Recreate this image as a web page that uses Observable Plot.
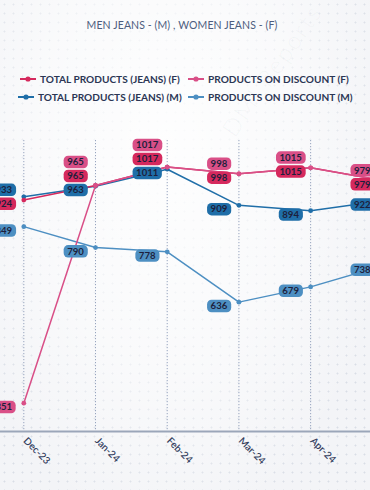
<!DOCTYPE html>
<html>
<head>
<meta charset="utf-8">
<script src="https://cdn.jsdelivr.net/npm/d3@7"></script>
<script src="https://cdn.jsdelivr.net/npm/@observablehq/plot@0.6"></script>
<style>
  html, body { margin: 0; padding: 0; overflow: hidden; }
  body { width: 370px; height: 490px; font-family: Lato, "Open Sans", sans-serif; }
  #wrap {
    position: relative; width: 370px; height: 490px; overflow: hidden;
    background-color: #f3f4f7;
    background-image: radial-gradient(circle, rgba(170,180,200,0.35) 0.8px, transparent 1.2px);
    background-size: 9px 9px;
  }
  #wrap::before {
    content: ""; position: absolute; inset: 0;
    background: radial-gradient(ellipse at 45% 30%, rgba(255,255,255,0.9) 0%, rgba(255,255,255,0.55) 45%, rgba(255,255,255,0) 80%);
    pointer-events: none;
  }
  #title {
    position: relative; height: 50px; line-height: 50px; text-align: center;
    font-size: 10.5px; color: #4d5d7e; letter-spacing: 0.1px; padding-right: 6px;
  }
  #legend { position: relative; height: 60px; }
  .lg { position: absolute; display: flex; align-items: center; font-size: 10.1px; font-weight: 700; color: #2b3654; white-space: nowrap; }
  .lg svg { margin-right: 4px; }
  #chart { position: relative; height: 380px; }
  #wm { position: absolute; left: 215px; top: 125px; font-size: 24px; color: rgba(120,130,150,0.06); transform: rotate(-55deg); transform-origin: left top; font-weight: 300; letter-spacing: 2px; }
</style>
</head>
<body>
<div id="wrap">
  <div id="wm">DMI Reports</div>
  <div id="title">MEN JEANS - (M) , WOMEN JEANS - (F)</div>
  <div id="legend"></div>
  <div id="chart"></div>
</div>
<script>
// ---- data ----
const months = ["Dec-23", "Jan-24", "Feb-24", "Mar-24", "Apr-24", "May-24"];
const femaleTotal = [924, 965, 1017, 998, 1015, 979];
const femaleDiscount = [351, 965, 1017, 998, 1015, 979];
const maleTotal = [933, 963, 1011, 909, 894, 922];
const maleDiscount = [849, 790, 778, 636, 679, 738];
const seriesNames = ["TOTAL PRODUCTS (JEANS) (F)", "PRODUCTS ON DISCOUNT (F)", "TOTAL PRODUCTS (JEANS) (M)", "PRODUCTS ON DISCOUNT (M)"];

// ---- styles ----
const colors = {
  fTotal: "#d5295d",
  fDisc: "#d94f87",
  mTotal: "#1f6ea8",
  mDisc: "#4d8fc2"
};
const series = [
  { key: "fTotal", name: seriesNames[0], values: femaleTotal, order: 0 },
  { key: "fDisc", name: seriesNames[1], values: femaleDiscount, order: 1 },
  { key: "mTotal", name: seriesNames[2], values: maleTotal, order: 0 },
  { key: "mDisc", name: seriesNames[3], values: maleDiscount, order: 0 }
];

// legend
const legendPos = [
  { s: 0, left: 20, top: 31 },
  { s: 1, left: 188, top: 31 },
  { s: 2, left: 18, top: 49 },
  { s: 3, left: 188, top: 49 }
];
const legend = document.getElementById("legend");
for (const p of legendPos) {
  const s = series[p.s];
  const d = document.createElement("div");
  d.className = "lg";
  d.style.left = p.left + "px";
  d.style.top = (p.top - 8) + "px";
  d.innerHTML = `<svg width="16" height="8"><line x1="0" y1="4" x2="16" y2="4" stroke="${colors[s.key]}" stroke-width="2"/><circle cx="8" cy="4" r="2.6" fill="${colors[s.key]}"/></svg><span>${s.name}</span>`;
  legend.appendChild(d);
}

// ---- chart ----
const W = 370, H = 380, mt = 30, mb = 59;
const yDomain = [271, 1092];
const xDomain = [-0.325, 4.835];
const yS = d3.scaleLinear(yDomain, [H - mb, mt]);

const rows = [];
for (const s of series) s.values.forEach((v, i) => rows.push({ i, v, key: s.key }));

// label placement: per month, ascending value, stack upward if colliding
const labels = [];
months.forEach((m, i) => {
  const group = series.filter(s => s.key !== "mDisc")
    .map(s => ({ key: s.key, v: s.values[i], order: s.order }))
    .sort((a, b) => a.v - b.v || a.order - b.order);
  let prev = null;
  for (const g of group) {
    let py = yS(g.v) + 4;
    if (prev !== null && Math.abs(prev - py) < 14) py = prev - 14;
    prev = py;
    labels.push({ i, v: g.v, key: g.key, ly: yS.invert(py) });
  }
  labels.push({ i, v: maleDiscount[i], key: "mDisc", ly: yS.invert(yS(maleDiscount[i]) + 4) });
});

const marks = [
  Plot.ruleX(months.map((m, i) => i), { x: d => d, stroke: "#8d9bb8", strokeWidth: 1, strokeDasharray: "1.2,1.8", strokeOpacity: 0.9 }),
  Plot.ruleY([yDomain[0]], { stroke: "#9ba6b9", strokeWidth: 1.8 }),
  Plot.text(months, { x: (d, i) => i, frameAnchor: "bottom", dy: 10, dx: -1, rotate: 45, textAnchor: "start", fill: "#34405e", fontSize: 10, fontWeight: 600, text: d => d })
];
for (const k of ["mDisc", "mTotal", "fTotal", "fDisc"]) {
  const data = rows.filter(r => r.key === k);
  marks.push(Plot.line(data, { x: "i", y: "v", stroke: colors[k], strokeWidth: 1.5 }));
  marks.push(Plot.dot(data, { x: "i", y: "v", fill: colors[k], r: 2.4 }));
}
for (const k of ["mDisc", "mTotal", "fTotal", "fDisc"]) {
  marks.push(Plot.text(labels.filter(l => l.key === k), {
    x: "i", y: "ly", text: d => String(d.v), dx: -20,
    fill: "#1d1f3c", fontSize: 9.6, fontWeight: 700, ariaDescription: "lbl-" + k
  }));
}

const plot = Plot.plot({
  width: W, height: H,
  marginTop: mt, marginBottom: mb, marginLeft: 0, marginRight: 0,
  x: { type: "linear", domain: xDomain, axis: null },
  y: { domain: yDomain, axis: null },
  style: { background: "transparent", fontFamily: "Lato, 'Open Sans', sans-serif", overflow: "visible" },
  marks
});
document.getElementById("chart").appendChild(plot);

// rounded label boxes behind label texts
for (const k of ["mDisc", "mTotal", "fTotal", "fDisc"]) {
  d3.select(plot).selectAll(`g[aria-description="lbl-${k}"] text`).each(function () {
    const b = this.getBBox();
    const r = document.createElementNS("http://www.w3.org/2000/svg", "rect");
    r.setAttribute("x", b.x - 3.5);
    r.setAttribute("y", b.y - 0.5);
    r.setAttribute("width", b.width + 7);
    r.setAttribute("height", b.height + 1.5);
    r.setAttribute("rx", 4.5);
    r.setAttribute("fill", colors[k]);
    const t = this.getAttribute("transform");
    if (t) r.setAttribute("transform", t);
    this.parentNode.insertBefore(r, this);
  });
}
</script>
</body>
</html>
